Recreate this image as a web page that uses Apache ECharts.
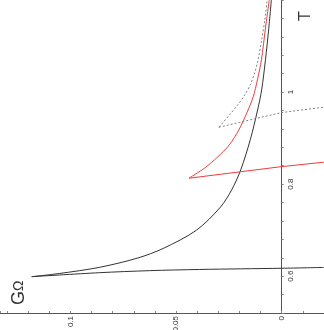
<!DOCTYPE html>
<html>
<head>
<meta charset="utf-8">
<script src="https://cdn.jsdelivr.net/npm/echarts@6/dist/echarts.min.js"></script>
<style>
  html, body { margin: 0; padding: 0; background: #fff; }
  #chart { width: 324px; height: 330px; }
</style>
</head>
<body>
<div id="chart"></div>
<script>
// curves: G (horizontal, reversed) against T (vertical)
const blackUpperG = [0.1183, 0.1051, 0.0861, 0.068, 0.0562, 0.0403, 0.029, 0.0237, 0.0194, 0.0149, 0.0114, 0.0095, 0.0077, 0.0062, 0.0049]
const blackUpperT = [0.5989, 0.6059, 0.6193, 0.6396, 0.66, 0.70, 0.75, 0.7874, 0.8309, 0.8961, 0.9613, 1.0048, 1.070, 1.135, 1.2004]
const blackLowerG = [0.1183, 0.0861, 0.0625, 0.0388, 0.0, -0.0199]
const blackLowerT = [0.5989, 0.6076, 0.612, 0.6146, 0.6172, 0.619]

const redUpperG = [0.0439, 0.0364, 0.0303, 0.0248, 0.0203, 0.0165, 0.0135, 0.0115, 0.0096, 0.0078, 0.0059]
const redUpperT = [0.8128, 0.8352, 0.8591, 0.8852, 0.9178, 0.9548, 0.9896, 1.0265, 1.070, 1.1352, 1.2004]
const redLowerG = [0.0439, 0.0001, -0.0199]
const redLowerT = [0.8128, 0.838, 0.8476]

const grayUpperG = [0.0297, 0.0251, 0.0208, 0.0175, 0.0149, 0.0128, 0.0112, 0.0095, 0.0080, 0.0069]
const grayUpperT = [0.9237, 0.9483, 0.9722, 0.9939, 1.0157, 1.0417, 1.070, 1.1135, 1.157, 1.2004]
const grayLowerG = [0.0297, 0.0001, -0.0199]
const grayLowerT = [0.9237, 0.9554, 0.9672]

// tick labels
const tLabels = [0.6, 0.8, 1]
const gLabels = [0, 0.05, 0.1]

const gMin = -0.02
const gMax = 0.1333

const zip = (g, t) => g.map((v, i) => [v, t[i]])

const chart = echarts.init(document.getElementById('chart'))

const labelFor = list => v => {
  const hit = list.find(t => Math.abs(t - v) < 1e-6)
  return hit === undefined ? '' : String(hit)
}

const mkLine = (data, color, dashed, smooth) => ({
  type: 'line',
  data: data,
  showSymbol: false,
  smooth: smooth ? 0.3 : false,
  silent: true,
  clip: true,
  lineStyle: {
    color: color,
    width: 1,
    type: dashed ? [2, 2] : 'solid'
  }
})

// T axis sits where G = 0, grid is 324 px wide
const tAxisOffset = -324 * (0 - gMin) / (gMax - gMin)

const option = {
  animation: false,
  grid: { left: 0, right: 0, top: 0, bottom: 17, outerBoundsMode: 'none', containLabel: false },
  xAxis: {
    type: 'value',
    inverse: true,
    min: gMin,
    max: gMax,
    interval: 0.01,
    axisLine: { onZero: false, lineStyle: { color: '#555', width: 1 } },
    axisTick: { inside: true, length: 2, lineStyle: { color: '#888' } },
    axisLabel: {
      rotate: 90,
      margin: 3,
      fontSize: 8,
      color: '#333',
      fontFamily: 'Liberation Sans',
      showMinLabel: true,
      showMaxLabel: true,
      hideOverlap: false,
      formatter: labelFor(gLabels)
    },
    splitLine: { show: false }
  },
  yAxis: {
    type: 'value',
    position: 'right',
    offset: tAxisOffset,
    min: 0.52,
    max: 1.2,
    interval: 0.04,
    axisLine: { onZero: false, lineStyle: { color: '#555', width: 1 } },
    axisTick: { length: 2, lineStyle: { color: '#888' } },
    axisLabel: {
      rotate: 90,
      margin: 5,
      fontSize: 8,
      color: '#333',
      fontFamily: 'Liberation Sans',
      hideOverlap: false,
      formatter: labelFor(tLabels)
    },
    splitLine: { show: false }
  },
  graphic: [
    {
      type: 'group',
      x: 298,
      y: 21,
      rotation: Math.PI / 2,
      children: [
        {
          type: 'text',
          x: 0,
          y: 0,
          style: { text: 'T', fontSize: 16, fontFamily: 'Liberation Sans', fill: '#333' }
        }
      ]
    },
    {
      type: 'group',
      x: 10,
      y: 305,
      rotation: Math.PI / 2,
      children: [
        {
          type: 'text',
          x: 0,
          y: 0,
          style: {
            text: '{a|G}{b|Ω}',
            fontFamily: 'Liberation Sans',
            fill: '#333',
            rich: {
              a: { fontSize: 18, fill: '#333' },
              b: { fontSize: 14, fill: '#333' }
            }
          }
        }
      ]
    }
  ],
  series: [
    mkLine(zip(blackUpperG, blackUpperT), '#333', false, true),
    mkLine(zip(blackLowerG, blackLowerT), '#333', false, true),
    mkLine(zip(redUpperG, redUpperT), '#f03c3c', false, true),
    mkLine(zip(redLowerG, redLowerT), '#f03c3c', false, false),
    mkLine(zip(grayUpperG, grayUpperT), '#808080', true, true),
    mkLine(zip(grayLowerG, grayLowerT), '#808080', true, false)
  ]
}

chart.setOption(option)
</script>
</body>
</html>
